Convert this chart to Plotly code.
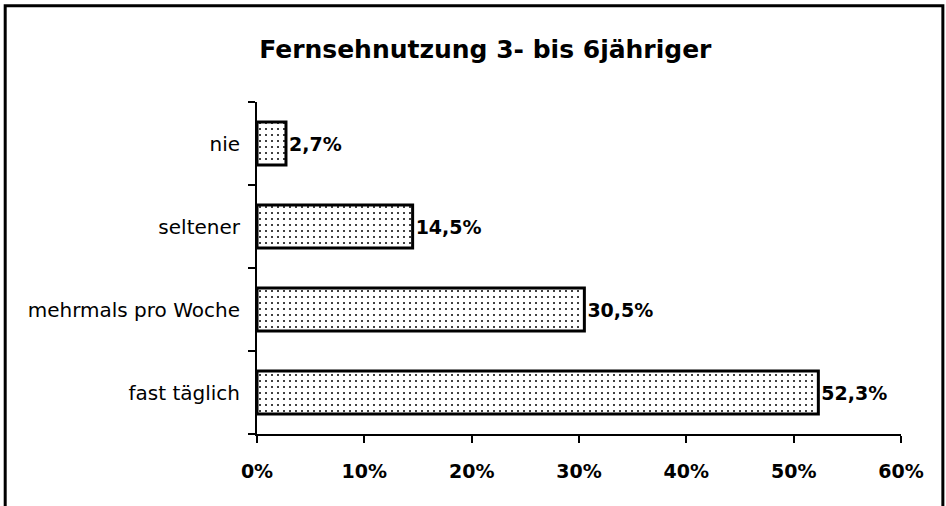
import plotly.graph_objects as go

categories = ["nie", "seltener", "mehrmals pro Woche", "fast täglich"]
values = [2.7, 14.5, 30.5, 52.3]
x_ticks = [0, 10, 20, 30, 40, 50, 60]
x_tick_labels = [f"{v}%" for v in x_ticks]
title_text = "Fernsehnutzung 3- bis 6jähriger"

labels = [f"{v:.1f}".replace(".", ",") + "%" for v in values]

FONT = "DejaVu Sans"

fig = go.Figure(go.Bar(
    x=values, y=categories, orientation="h",
    width=0.52,
    text=labels, textposition="outside",
    textfont=dict(family=FONT, size=19, color="black", weight="bold"),
    cliponaxis=False,
    marker=dict(
        color="white",
        line=dict(color="black", width=3),
        pattern=dict(shape=".", fgcolor="black", bgcolor="white", size=6, solidity=0.09, fillmode="replace"),
    ),
))

fig.update_layout(
    width=946, height=506,
    paper_bgcolor="white", plot_bgcolor="white",
    margin=dict(l=257, r=45, t=102, b=72),
    showlegend=False,
    title=dict(text=f"<b>{title_text}</b>", x=0.513, xanchor="center", y=0.902, yanchor="middle",
               font=dict(family=FONT, size=25, color="black")),
    font=dict(family=FONT, color="black"),
    xaxis=dict(range=[0, 60], tickvals=x_ticks, ticktext=x_tick_labels,
               showline=True, linecolor="black", linewidth=2,
               ticks="outside", ticklen=7, tickwidth=2, tickcolor="black",
               showgrid=False, zeroline=False, ticklabelstandoff=12,
               tickfont=dict(size=19, color="black", weight="bold")),
    yaxis=dict(categoryorder="array", categoryarray=categories[::-1],
               showline=True, linecolor="black", linewidth=2,
               ticks="outside", ticklen=7, tickwidth=2, tickcolor="black",
               tickson="boundaries", showgrid=False, ticklabelstandoff=11,
               tickfont=dict(size=20, color="black")),
    shapes=[dict(type="rect", xref="paper", yref="paper",
                 x0=-0.391, x1=1.065, y0=-0.3, y1=1.29,
                 line=dict(color="black", width=3), fillcolor="rgba(0,0,0,0)", layer="below")],
)

fig.write_html("out.html", config={"displayModeBar": False},
               post_script="document.body.style.margin='0';document.body.style.padding='0';")
